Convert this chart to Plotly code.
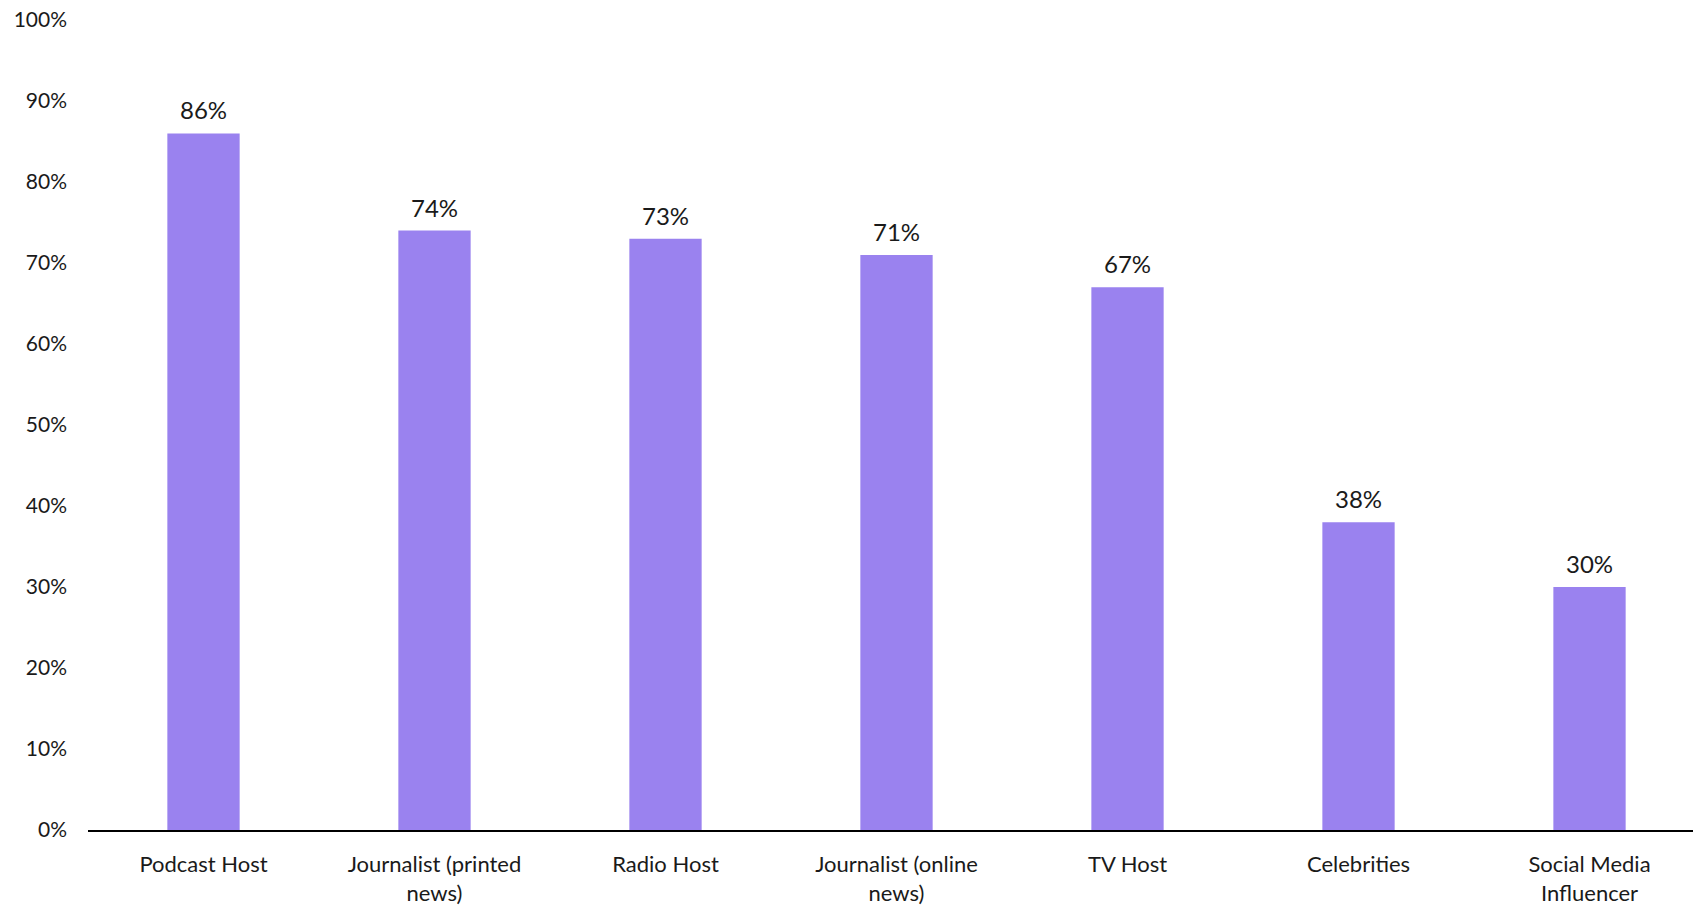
import plotly.graph_objects as go

categories = ["Podcast Host", "Journalist (printed<br>news)", "Radio Host",
              "Journalist (online<br>news)", "TV Host", "Celebrities",
              "Social Media<br>Influencer"]
values = [0.86, 0.74, 0.73, 0.71, 0.67, 0.38, 0.30]
labels = ["86%", "74%", "73%", "71%", "67%", "38%", "30%"]

FONT = "Lato, 'Noto Sans', sans-serif"
BAR = "#9A82EF"
TXT = "#1a1a1a"

fig = go.Figure()
fig.add_trace(go.Bar(
    x=list(range(len(categories))), y=values, marker_color=BAR,
    marker_line_width=0, width=0.313, hoverinfo="skip"))

for i, (v, t) in enumerate(zip(values, labels)):
    fig.add_annotation(x=i, y=v, text=t, showarrow=False, yanchor="bottom",
                       yshift=7, font=dict(family=FONT, size=24, color=TXT))

fig.update_layout(
    width=1693, height=906,
    margin=dict(l=88, r=0, t=20, b=76),
    paper_bgcolor="white", plot_bgcolor="white",
    showlegend=False,
    font=dict(family=FONT, size=20, color=TXT),
    xaxis=dict(range=[-0.5, 6.448], tickmode="array",
               tickvals=list(range(len(categories))), ticktext=categories,
               tickfont=dict(family=FONT, size=22, color=TXT),
               showline=True, linecolor="black", linewidth=2, automargin=False,
               showgrid=False, zeroline=False, ticks="", ticklabelstandoff=14),
    yaxis=dict(range=[0, 1.0], dtick=0.1, tickformat=".0%", showgrid=False,
               tickfont=dict(family=FONT, size=21, color=TXT), automargin=False,
               zeroline=False, showline=False, ticks="", ticklabelstandoff=20),
)

fig.write_html("out.html")
